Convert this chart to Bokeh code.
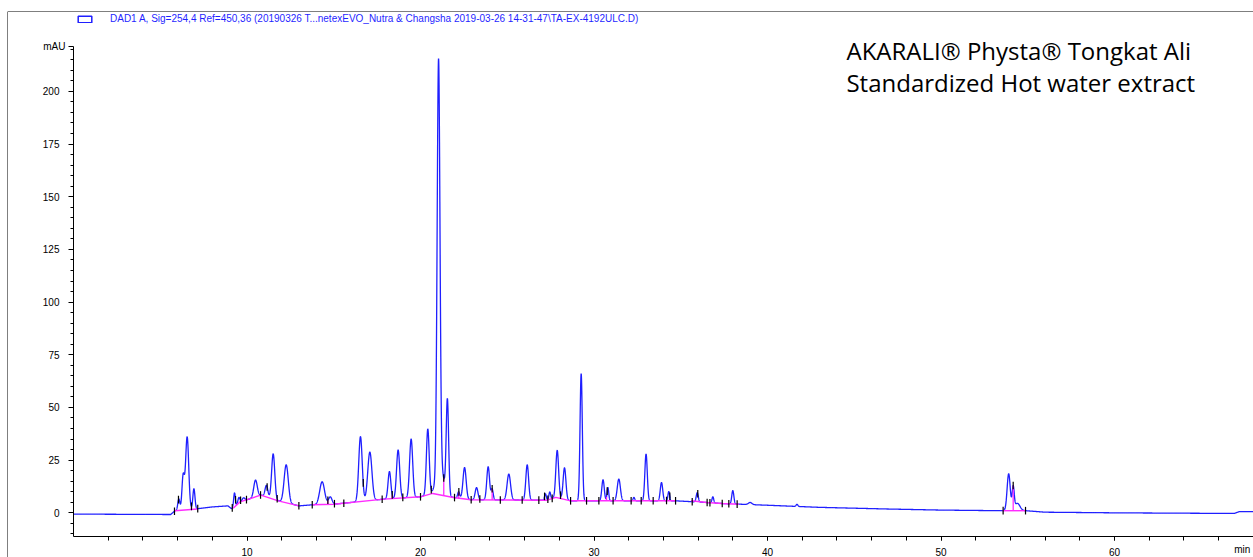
import numpy as np
from bokeh.plotting import figure
from bokeh.models import (Range1d, FixedTicker, Label, Span, Legend, LegendItem,
                          LinearAxis)
from bokeh.embed import file_html
from bokeh.resources import INLINE

# ---------------- data ----------------
# detector background level (min, mAU)
bg_time = [0, 5.6, 5.85, 7.2, 8.0, 8.9, 9.1, 9.3, 9.65, 10.8, 11.8, 13.0, 13.75, 15.0, 17.9,
           20.0, 20.7, 21.9, 22.9, 27.3, 27.8, 28.65, 34.7, 36.5, 37.4, 38.4, 40.0, 43.0,
           47.0, 50.0, 53.5, 54.9, 56.0, 60.0, 66.9, 67.2, 68.0]
bg_level = [-0.6, -0.8, 1.0, 2.0, 2.8, 3.3, 2.0, 2.5, 5.2, 8.4, 5.7, 3.3, 3.8, 4.1, 6.5,
            7.6, 9.2, 7.3, 6.2, 6.0, 7.3, 5.7, 5.7, 4.9, 4.4, 4.1, 3.6, 2.6,
            1.8, 1.3, 1.0, 1.0, 0.3, 0.0, -0.3, 0.6, 0.6]

# peaks: retention time (min), height above background (mAU), width (sigma, min)
peak_time = [6.07, 6.32, 6.55, 6.94, 9.28, 9.53, 9.8, 10.49, 11.12, 11.51, 12.26, 14.33, 14.8,
             16.54, 17.08, 18.21, 18.71, 19.46, 20.42, 21.04, 21.12, 21.55, 22.2, 22.54, 23.23,
             23.9, 24.13, 25.09, 26.15, 27.2, 27.45, 27.88, 28.3, 29.26, 30.52, 30.8, 31.43,
             32.3, 33.0, 33.89, 34.31, 35.95, 36.85, 38.0, 39.0, 41.7, 53.9, 54.16, 54.4]
peak_height = [5.4, 16.0, 34.5, 9.6, 7.0, 3.0, 1.5, 8.0, 5.5, 21.5, 18.0, 10.8, 3.5,
               30.8, 23.0, 12.9, 22.9, 27.7, 31.2, 194.0, 14.0, 45.0, 3.0, 14.9, 5.8,
               15.7, 5.0, 12.3, 16.7, 3.0, 3.5, 22.5, 15.0, 60.3, 10.0, 6.3, 10.3,
               1.6, 22.2, 8.7, 4.4, 4.4, 2.9, 6.3, 1.0, 1.0, 17.5, 10.7, 3.5]
peak_width = [0.06, 0.07, 0.09, 0.06, 0.05, 0.06, 0.08, 0.10, 0.08, 0.09, 0.12, 0.14, 0.10,
              0.10, 0.12, 0.08, 0.09, 0.09, 0.08, 0.08, 0.2, 0.07, 0.06, 0.09, 0.08,
              0.08, 0.06, 0.10, 0.08, 0.05, 0.05, 0.08, 0.08, 0.065, 0.07, 0.05, 0.09,
              0.05, 0.07, 0.07, 0.05, 0.06, 0.05, 0.06, 0.1, 0.05, 0.09, 0.06, 0.15]

# integration baselines (magenta)
base_time = [[5.85, 7.15], [9.2, 9.6, 10.8, 11.8, 13.0],
             [13.75, 15.0, 17.9, 20.0, 20.7, 21.9, 22.9, 27.3, 27.8, 28.65, 34.7],
             [35.6, 36.5, 37.4, 38.35], [53.55, 54.9]]
base_level = [[1.0, 1.8], [2.2, 5.2, 8.4, 5.7, 3.3],
              [3.8, 4.1, 6.5, 7.6, 9.2, 7.3, 6.2, 6.0, 7.3, 5.7, 5.7],
              [5.7, 4.9, 4.4, 4.1], [1.0, 1.0]]
drop_time = [6.8, 14.66, 18.37, 18.98, 21.34, 22.2, 24.13, 28.07, 30.72, 54.16]

# integration event marks (black)
event_time = [5.82, 6.05, 6.8, 7.16, 9.15, 9.34, 9.63, 9.97, 10.78, 11.16, 11.74, 12.99, 13.76,
              14.66, 15.04, 15.58, 16.7, 17.79, 18.37, 18.98, 20.0, 20.62, 21.34, 21.96, 22.21,
              22.92, 23.42, 24.13, 24.6, 25.86, 26.82, 27.15, 27.34, 27.59, 28.07, 28.65, 29.57,
              30.28, 30.76, 31.1, 32.14, 32.72, 33.41, 34.18, 34.37, 34.7, 35.66, 35.98, 36.52,
              36.68, 37.39, 37.77, 38.25, 53.58, 54.16, 54.87]

y_major = [0, 25, 50, 75, 100, 125, 150, 175, 200, 221.4]
x_major = [10, 20, 30, 40, 50, 60]

legend_text = ("DAD1 A, Sig=254,4 Ref=450,36 (20190326 T...netexEVO_Nutra & Changsha "
               "2019-03-26 14-31-47\\TA-EX-4192ULC.D)")
title_lines = ["AKARALI\u00ae Physta\u00ae Tongkat Ali", "Standardized  Hot water extract"]

# ---------------- build trace ----------------
t = np.arange(0.0, 68.0, 0.005)
signal = np.interp(t, bg_time, bg_level)
for tr, h, s in zip(peak_time, peak_height, peak_width):
    signal = signal + h * np.exp(-0.5 * ((t - tr) / s) ** 2)


def base_at(x):
    for bt, bl in zip(base_time, base_level):
        if bt[0] - 0.05 <= x <= bt[-1] + 0.05:
            return float(np.interp(x, bt, bl))
    return float(np.interp(x, bg_time, bg_level))


BLUE = "#1f1fff"
MAG = "#ff2cff"

p = figure(width=1253, height=557, output_backend="svg", toolbar_location=None,
           x_range=Range1d(-3.804, 68.01), y_range=Range1d(-21.2, 237.9),
           x_axis_location=None, y_axis_location=None,
           min_border_left=7, min_border_right=0, min_border_top=11, min_border_bottom=0)
p.grid.visible = False
p.outline_line_color = None
p.background_fill_color = "white"
p.border_fill_color = "white"

# axes at fixed positions
xa = LinearAxis(fixed_location=-11.2, bounds=(0, 68.01),
                ticker=FixedTicker(ticks=x_major, minor_ticks=list(range(2, 68, 2))))
xa.major_tick_out = 4
xa.major_tick_in = 0
xa.minor_tick_out = 4
xa.minor_tick_in = 0
xa.major_label_standoff = 8
ya = LinearAxis(fixed_location=0, bounds=(-11.2, 221.4),
                ticker=FixedTicker(ticks=y_major, minor_ticks=list(range(-10, 225, 5))))
ya.major_tick_out = 5
ya.major_tick_in = 0
ya.minor_tick_out = 3
ya.minor_tick_in = 0
ya.major_label_standoff = 9
ya.major_label_overrides = {221.4: ""}
for ax in (xa, ya):
    ax.axis_line_color = "black"
    ax.major_tick_line_color = "black"
    ax.minor_tick_line_color = "black"
    ax.major_label_text_font = "Liberation Sans"
    ax.major_label_text_font_size = "10px"
    ax.major_label_text_color = "black"
p.add_layout(xa, "below")
p.add_layout(ya, "left")

# outer frame lines
p.add_layout(Span(location=-3.804, dimension="height", line_color="black", line_width=1))
p.add_layout(Span(location=237.9, dimension="width", line_color="black", line_width=1))

# trace
p.line(t, signal, line_color=BLUE, line_width=1.3)

# integration baselines
p.multi_line(base_time, base_level, line_color=MAG, line_width=1.4)
# drop lines
dx = [[d, d] for d in drop_time]
dy = [[base_at(d), float(np.interp(d, t, signal))] for d in drop_time]
p.multi_line(dx, dy, line_color=MAG, line_width=1.3)
# event marks
ev_y = np.interp(event_time, t, signal)
p.segment(x0=event_time, x1=event_time, y0=ev_y - 1.8, y1=ev_y + 1.8,
          line_color="black", line_width=1.2)

# legend with rectangular icon (proxy renderer draws nothing in the plot)
dummy = p.quad(left=[np.nan], right=[np.nan], top=[np.nan], bottom=[np.nan],
               fill_color=None, line_color=BLUE, line_width=1.5)
leg = Legend(items=[LegendItem(label=legend_text, renderers=[dummy])],
             location=(69, 533), padding=0, margin=0, border_line_color=None,
             background_fill_alpha=0, glyph_width=17, glyph_height=8, label_standoff=17,
             label_height=8, label_text_font="Liberation Sans", label_text_font_size="10px",
             label_text_color=BLUE)
p.add_layout(leg)

# axis end labels
p.add_layout(Label(x=0, y=221.4, x_offset=-8, text="mAU", text_align="right",
                   text_baseline="middle", text_font="Liberation Sans",
                   text_font_size="10px", text_color="black"))
p.add_layout(Label(x=66.9, y=-17.6, text="min", text_align="left",
                   text_baseline="middle", text_font="Liberation Sans",
                   text_font_size="10px", text_color="black"))

# annotation text
p.add_layout(Label(x=44.55, y=219.4, text=title_lines[0], text_align="left",
                   text_baseline="alphabetic", text_font="Open Sans",
                   text_font_size="24px", text_color="black"))
p.add_layout(Label(x=44.55, y=204.2, text=title_lines[1], text_align="left",
                   text_baseline="alphabetic", text_font="Open Sans",
                   text_font_size="24px", text_color="black"))

open("out.html", "w").write(file_html(p, INLINE))
